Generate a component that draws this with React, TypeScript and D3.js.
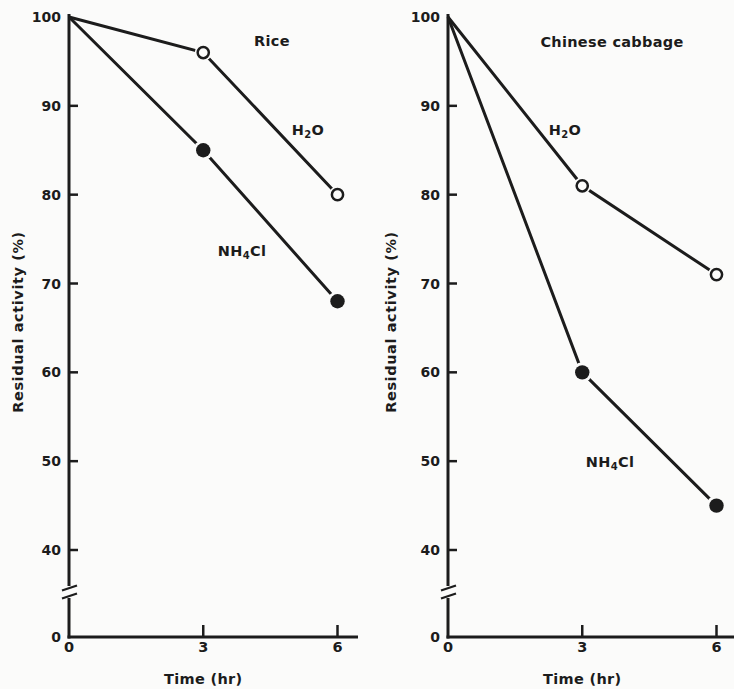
import React from "react";
import * as d3 from "d3";

const times = [0, 3, 6];
const riceH2O = [100, 96, 80];
const riceNH4Cl = [100, 85, 68];
const cabbageH2O = [100, 81, 71];
const cabbageNH4Cl = [100, 60, 45];
const yTicks = [0, 40, 50, 60, 70, 80, 90, 100];
const xTicks = [0, 3, 6];
const xTickLabels = ["0", "3", "6"];

const INK = "#1c1c1c";
const BG = "#fbfbfa";
const FONT = "'DejaVu Sans', 'Liberation Sans', Arial, sans-serif";
const LBL = 14.5;

type Lbl = { text: string; sub?: string; rest?: string; x: number; y: number };

type PanelProps = {
  axisX: number;
  xEnd: number;
  yLabelX: number;
  h2o: number[];
  nh4: number[];
  title: Lbl;
  h2oLbl: Lbl;
  nh4Lbl: Lbl;
};

const Sub = ({ l }: { l: Lbl }) => (
  <text
    x={l.x}
    y={l.y}
    textAnchor="middle"
    fontFamily={FONT}
    fontWeight="bold"
    fontSize={LBL}
    letterSpacing={0.3}
    fill={INK}
  >
    {l.text}
    {l.sub ? (
      <tspan fontSize={10} dy={3}>
        {l.sub}
      </tspan>
    ) : null}
    {l.rest ? <tspan dy={l.sub ? -3 : 0}>{l.rest}</tspan> : null}
  </text>
);

function Panel(p: PanelProps) {
  const x = d3.scaleLinear().domain([0, 6]).range([p.axisX, p.axisX + 268.5]);
  const y = d3.scaleLinear().domain([0, 40, 100]).range([637, 550, 17]);
  const line = d3
    .line<number>()
    .x((_, i) => x(times[i]))
    .y((d) => y(d));
  const breakY1 = 588;
  const breakY2 = 596;
  return (
    <g>
      {/* axes */}
      <line x1={p.axisX} x2={p.axisX} y1={14} y2={breakY1 - 2} stroke={INK} strokeWidth={3} />
      <line x1={p.axisX} x2={p.axisX} y1={breakY2 + 2} y2={638.5} stroke={INK} strokeWidth={3} />
      <line x1={p.axisX - 1.5} x2={p.xEnd} y1={637} y2={637} stroke={INK} strokeWidth={3} />
      {/* break marks */}
      {[breakY1, breakY2].map((by, i) => (
        <line key={i} x1={p.axisX - 7} x2={p.axisX + 8} y1={by + 2.5} y2={by - 2.5} stroke={INK} strokeWidth={2.2} />
      ))}
      {/* y ticks */}
      {yTicks.map((t) => (
        <g key={t}>
          {t !== 0 && t !== 100 ? (
            <line x1={p.axisX} x2={p.axisX + 9} y1={y(t)} y2={y(t)} stroke={INK} strokeWidth={2.5} />
          ) : null}
          <text
            x={p.axisX - 8}
            y={y(t)}
            dy="0.36em"
            textAnchor="end"
            fontFamily={FONT}
            fontWeight="bold"
            fontSize={14}
            fill={INK}
          >
            {t}
          </text>
        </g>
      ))}
      {/* x ticks */}
      {xTicks.map((t, i) => (
        <g key={t}>
          {t !== 0 ? <line x1={x(t)} x2={x(t)} y1={637} y2={625} stroke={INK} strokeWidth={2.5} /> : null}
          <text x={x(t)} y={652} textAnchor="middle" fontFamily={FONT} fontWeight="bold" fontSize={14.5} fill={INK}>
            {xTickLabels[i]}
          </text>
        </g>
      ))}
      <text
        x={x(3)}
        y={684}
        textAnchor="middle"
        fontFamily={FONT}
        fontWeight="bold"
        fontSize={LBL}
        letterSpacing={0.3}
        fill={INK}
      >
        Time  (hr)
      </text>
      <text
        transform={`translate(${p.yLabelX},322) rotate(-90)`}
        textAnchor="middle"
        dy="0.36em"
        fontFamily={FONT}
        fontWeight="bold"
        fontSize={LBL}
        letterSpacing={0.6}
        fill={INK}
      >
        Residual activity (%)
      </text>
      {/* series lines */}
      <path d={line(p.h2o) || ""} fill="none" stroke={INK} strokeWidth={3} />
      <path d={line(p.nh4) || ""} fill="none" stroke={INK} strokeWidth={3} />
      {/* markers (skip t=0) */}
      {p.nh4.map((v, i) =>
        i === 0 ? null : (
          <g key={"n" + i}>
            <circle cx={x(times[i])} cy={y(v)} r={10} fill={BG} />
            <circle cx={x(times[i])} cy={y(v)} r={7.2} fill={INK} />
          </g>
        )
      )}
      {p.h2o.map((v, i) =>
        i === 0 ? null : (
          <g key={"h" + i}>
            <circle cx={x(times[i])} cy={y(v)} r={8.5} fill={BG} />
            <circle cx={x(times[i])} cy={y(v)} r={5.6} fill={BG} stroke={INK} strokeWidth={2.5} />
          </g>
        )
      )}
      <Sub l={p.title} />
      <Sub l={p.h2oLbl} />
      <Sub l={p.nh4Lbl} />
    </g>
  );
}

export default function App() {
  return (
    <svg width={734} height={689} style={{ position: "absolute", left: 0, top: 0, background: BG }}>
      <Panel
        axisX={69}
        xEnd={358}
        yLabelX={18}
        h2o={riceH2O}
        nh4={riceNH4Cl}
        title={{ text: "Rice", x: 272, y: 46 }}
        h2oLbl={{ text: "H", sub: "2", rest: "O", x: 308, y: 135 }}
        nh4Lbl={{ text: "NH", sub: "4", rest: "Cl", x: 242, y: 256 }}
      />
      <Panel
        axisX={448}
        xEnd={734}
        yLabelX={391}
        h2o={cabbageH2O}
        nh4={cabbageNH4Cl}
        title={{ text: "Chinese cabbage", x: 612, y: 47 }}
        h2oLbl={{ text: "H", sub: "2", rest: "O", x: 565, y: 135 }}
        nh4Lbl={{ text: "NH", sub: "4", rest: "Cl", x: 610, y: 467 }}
      />
    </svg>
  );
}
